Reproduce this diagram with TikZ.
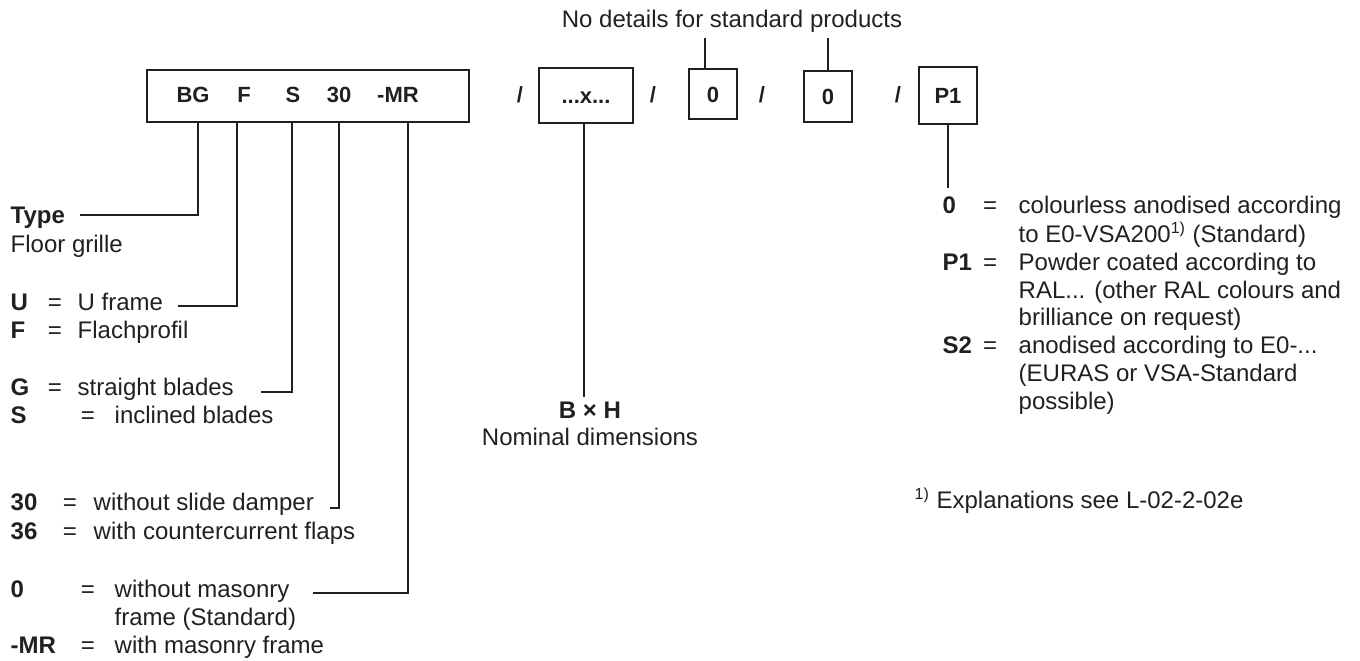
\documentclass[tikz,border=0pt]{standalone}
\usepackage{fontspec}
\setmainfont{Liberation Sans}
\definecolor{ink}{HTML}{231F20}

\begin{document}
\begin{tikzpicture}[x=0.5pt,y=-0.5pt,line width=0.7pt,draw=ink,
    txt/.style={anchor=base west,inner sep=0pt,text=ink,font=\fontsize{12}{14}\selectfont},
    key/.style={txt,font=\fontsize{12}{14}\selectfont\bfseries},
    code/.style={anchor=base,inner sep=0pt,text=ink,font=\fontsize{11}{13}\selectfont\bfseries},
    codebox/.style={draw,inner sep=0pt,text height=8pt,text depth=0pt,text=ink,
        font=\fontsize{11}{13}\selectfont\bfseries}]
    \useasboundingbox (0,0) rectangle (1360,660);
    % order code
    \node[codebox,minimum width=161pt,minimum height=26pt] (main) at (308,96) {};
    \foreach \x/\c/\n in {193/BG/cBG,244/F/cF,293/S/cS,339/30/c30,398/-MR/cMR}
        \node[code] (\n) at (\x,102) {\c};
    \node[codebox,minimum width=47pt,minimum height=27.5pt] (xbox) at (586,95.5) {...x...};
    \node[codebox,minimum width=24pt,minimum height=25pt] (zeroA) at (713,94) {0};
    \node[codebox,minimum width=24pt,minimum height=25.5pt] (zeroB) at (828,96.5) {0};
    \node[codebox,minimum width=29pt,minimum height=28.5pt] (pbox) at (948,95.5) {P1};
    \foreach \x/\n in {520/sl1,653/sl2,762/sl3,898/sl4}
        \node[code] (\n) at (\x,102) {/};
    \coordinate (tBG) at (198,122);
    \coordinate (tF) at (237,122);
    \coordinate (tS) at (292,122);
    \coordinate (t30) at (339,122);
    \coordinate (tMR) at (408,122);
    % left legend
    \node[key] (type) at (10,223) {Type};
    \node[txt] (floor) at (10,252) {Floor grille};
    \foreach \k/\ex/\dx/\y/\d/\n in {U/55/77/310/U frame/U,F/55/77/338/Flachprofil/F,
            G/55/77/395/straight blades/G,S/88/114/423/inclined blades/S,
            30/70/93/510/without slide damper/30,36/70/93/539/with countercurrent flaps/36,
            0/88/114/597/without masonry/0,-MR/88/114/653/with masonry frame/MR}{
        \node[key] (k\n) at (10,\y) {\k};
        \node[txt,anchor=base] (e\n) at (\ex,\y) {=};
        \node[txt] (d\n) at (\dx,\y) {\d};
    }
    \node[txt] (d0b) at (114,625) {frame (Standard)};
    % leader lines
    \draw ([xshift=7pt,yshift=4pt]type.base east) -| (tBG);
    \draw ([xshift=7pt,yshift=2pt]dU.base east) -| (tF);
    \draw ([xshift=13.5pt,yshift=1.5pt]dG.base east) -| (tS);
    \draw ([xshift=7.5pt,yshift=1pt]d30.base east) -| (t30);
    \draw ([xshift=11.5pt,yshift=2pt]d0.base east) -| (tMR);
    % dimensions
    \node[key,anchor=base] (bh) at (590,418) {B × H};
    \node[txt,anchor=base] (nom) at (590,445) {Nominal dimensions};
    \draw ([xshift=-1pt]xbox.south) -- ([xshift=-1pt,yshift=2pt]xbox.south |- bh.north);
    % standard products
    \node[txt,anchor=base] (nodet) at (732,27) {No details for standard products};
    \draw ([xshift=-4pt]zeroA.north) -- ([xshift=-4pt,yshift=-2.5pt]zeroA.north |- nodet.south);
    \draw (zeroB.north) -- ([yshift=-2.5pt]zeroB.north |- nodet.south);
    % surface
    \foreach \k/\y/\d/\n in {0/213/colourless anodised according/0,
            P1/270/Powder coated according to/P1}{
        \node[key] (rk\n) at (942,\y) {\k};
        \node[txt,anchor=base] (re\n) at (990,\y) {=};
        \node[txt] (rd\n) at (1018,\y) {\d};
    }
    \node[key] (rkS2) at (942,353) {S2};
    \node[txt,anchor=base] (reS2) at (990,353) {=};
    \node[txt] (rdS2) at (1018,353) {anodised according to E0-...};
    \node[txt] (rd0b) at (1018,242) {to E0-VSA200\textsuperscript{1)} (Standard)};
    \node[txt] (rdP1b) at (1018,298) {RAL... (other RAL colours and};
    \node[txt] (rdP1c) at (1018,325) {brilliance on request)};
    \node[txt] (rdS2b) at (1018,381) {(EURAS or VSA-Standard};
    \node[txt] (rdS2c) at (1018,409) {possible)};
    \draw (pbox.south) -- ([yshift=4pt]pbox.south |- rk0.north);
    % footnote
    \node[txt] (fn) at (914,508) {\textsuperscript{1)} Explanations see L-02-2-02e};
\end{tikzpicture}
\end{document}
